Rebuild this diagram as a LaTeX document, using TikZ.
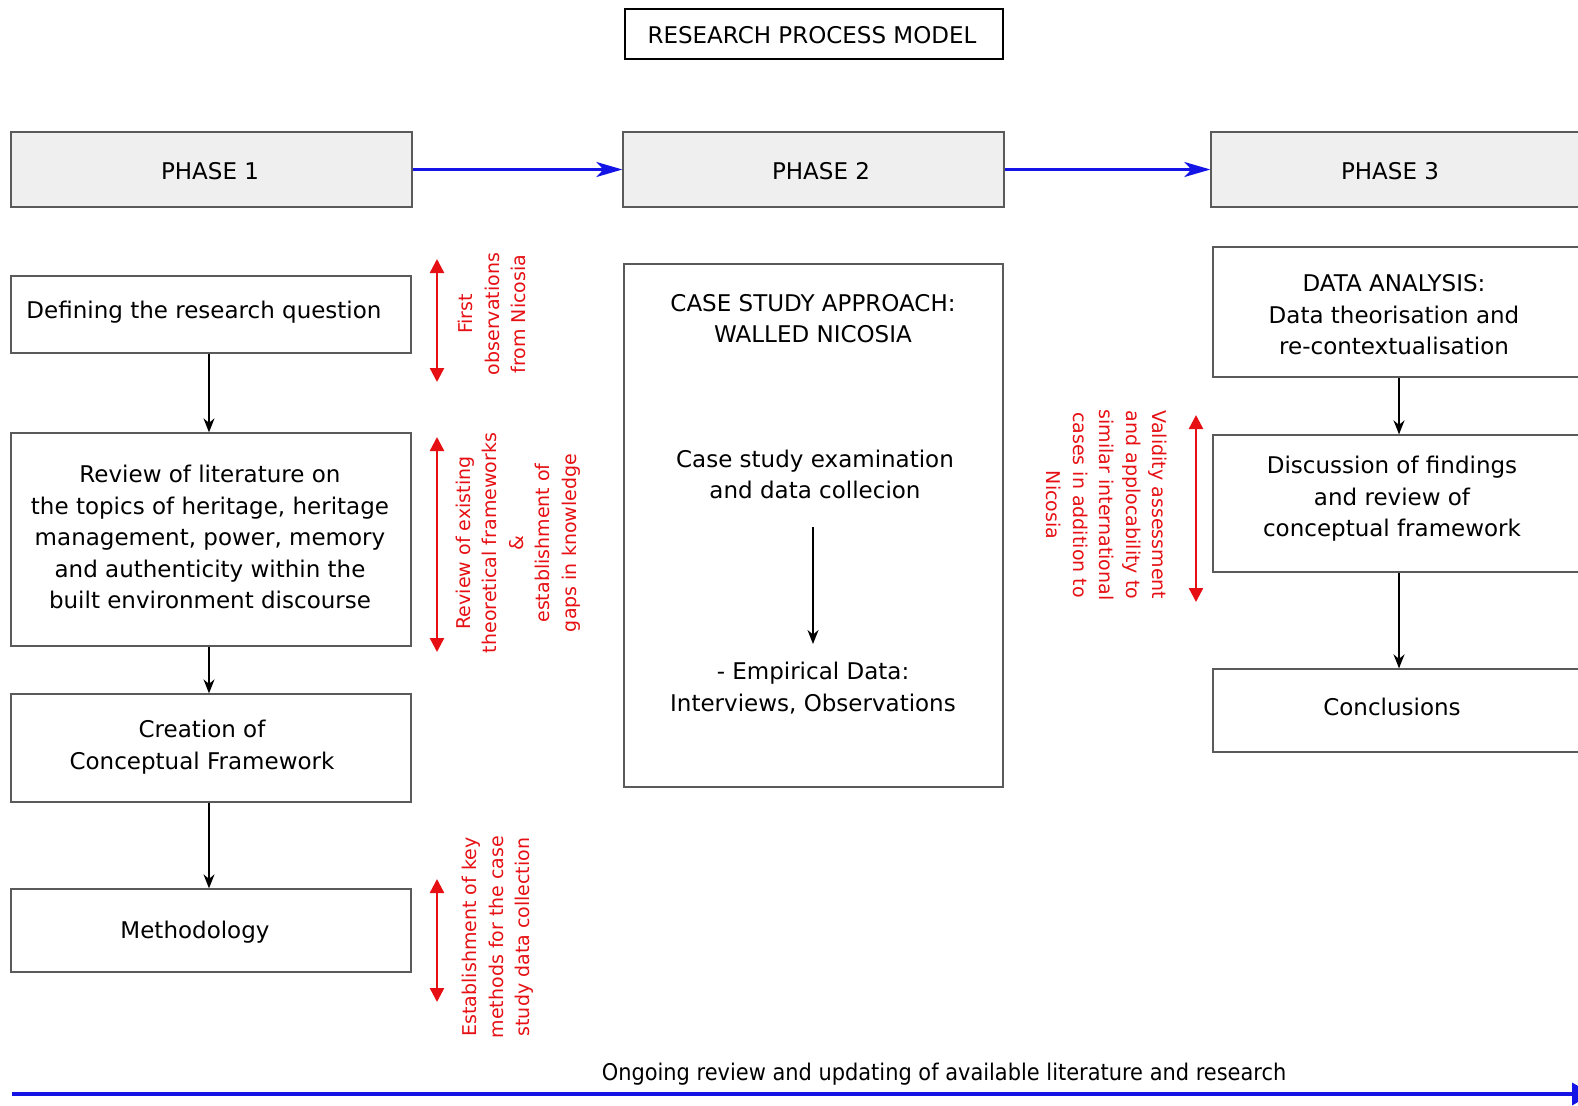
\documentclass[tikz,border=0pt]{standalone}
\usepackage{fontspec}
\usepackage{graphicx}
\setmainfont{DejaVu Sans}
\usetikzlibrary{arrows.meta}
\definecolor{phasefill}{HTML}{EFEFEF}
\definecolor{edgegray}{HTML}{5A5A5A}
\definecolor{notered}{RGB}{230,16,20}
\definecolor{flowblue}{RGB}{20,20,230}
\begin{document}
\begin{tikzpicture}[x=1pt,y=-1pt,
  box/.style={draw=edgegray,line width=1.3pt,inner sep=0pt},
  phasebox/.style={box,fill=phasefill},
  txt/.style={align=center,inner sep=0pt,font=\fontsize{23}{31.5}\selectfont},
  note/.style={align=center,inner sep=0pt,text=notered,font=\fontsize{19}{26.5}\selectfont},
  flow/.style={-{Stealth[length=14pt,width=11pt]},line width=1.7pt},
  bothway/.style={{Triangle[length=14pt,width=14pt]}-{Triangle[length=14pt,width=14pt]},line width=2.4pt,draw=notered},
  phaselink/.style={-{Stealth[length=26pt,width=15pt,inset=7pt]},line width=2.4pt,draw=flowblue}]
\useasboundingbox (0,0) rectangle (1578,1105);

% title
\node[draw=black,line width=2.8pt,minimum width=378pt,minimum height=50pt,inner sep=0pt] (title) at (814,34) {};
\node[txt] (titletext) at (812,35) {RESEARCH PROCESS MODEL};

% phase headers
\node[phasebox,minimum width=401pt,minimum height=75pt] (ph1) at (211.5,169.5) {};
\node[phasebox,minimum width=381pt,minimum height=75pt] (ph2) at (813.5,169.5) {};
\node[phasebox,minimum width=389pt,minimum height=75pt] (ph3) at (1405.5,169.5) {};
\node[txt] (ph1t) at (210,171) {PHASE 1};
\node[txt] (ph2t) at (821,171) {PHASE 2};
\node[txt] (ph3t) at (1390,171) {PHASE 3};
\draw[phaselink] (ph1.east) -- (ph2.west);
\draw[phaselink] (ph2.east) -- (ph3.west);

% phase 1 column
\node[box,minimum width=400pt,minimum height=77pt] (defq) at (211,314.5) {};
\node[box,minimum width=400pt,minimum height=213pt] (rev) at (211,539.5) {};
\node[box,minimum width=400pt,minimum height=108pt] (conc) at (211,748) {};
\node[box,minimum width=400pt,minimum height=83pt] (meth) at (211,930.5) {};
\node[txt] (defqt) at (204,312) {Defining the research question};
\node[txt] (revt) at (210,537) {Review of literature on\\the topics of heritage, heritage\\management, power, memory\\and authenticity within the\\built environment discourse};
\node[txt] (conct) at (202,747) {Creation of\\Conceptual Framework};
\node[txt] (metht) at (195,932) {Methodology};
\draw[flow] ([xshift=-2pt]defq.south) -- ([xshift=-2pt]rev.north);
\draw[flow] ([xshift=-2pt]rev.south) -- ([xshift=-2pt]conc.north);
\draw[flow] ([xshift=-2pt]conc.south) -- ([xshift=-2pt]meth.north);

% notes beside phase 1
\coordinate (r1a) at (437,259); \coordinate (r1b) at (437,382);
\coordinate (r2a) at (437,437); \coordinate (r2b) at (437,652);
\coordinate (r3a) at (437,879); \coordinate (r3b) at (437,1002);
\draw[bothway] (r1a) -- (r1b);
\draw[bothway] (r2a) -- (r2b);
\draw[bothway] (r3a) -- (r3b);
\node[note,rotate=90] (n1) at (492,314) {First\\observations\\from Nicosia};
\node[note,rotate=90] (n2) at (518,543) {Review of existing\\theoretical frameworks\\\&\\establishment of\\gaps in knowledge};
\node[note,rotate=90] (n3) at (498,937) {Establishment of key\\methods for the case\\study data collection};

% phase 2 column
\node[box,minimum width=379pt,minimum height=523pt] (case) at (813.5,525.5) {};
\node[txt] (caset) at (813,318.5) {CASE STUDY APPROACH:\\WALLED NICOSIA};
\node[txt] (exam) at (815,474.5) {Case study examination\\and data collecion};
\node[txt] (emp) at (813,688) {- Empirical Data:\\Interviews, Observations};
\coordinate (e1) at (813,527); \coordinate (e2) at (813,644);
\draw[flow] (e1) -- (e2);

% phase 3 column
\node[box,minimum width=387pt,minimum height=130pt] (ana) at (1406.5,312) {};
\node[box,minimum width=387pt,minimum height=137pt] (disc) at (1406.5,503.5) {};
\node[box,minimum width=387pt,minimum height=83pt] (concl) at (1406.5,710.5) {};
\node[txt] (anat) at (1394,315) {DATA ANALYSIS:\\Data theorisation and\\re-contextualisation};
\node[txt] (disct) at (1392,499) {Discussion of findings\\and review of\\conceptual framework};
\node[txt] (conclt) at (1392,707) {Conclusions};
\draw[flow] ([xshift=-7.5pt]ana.south) -- ([xshift=-7.5pt]disc.north);
\draw[flow] ([xshift=-7.5pt]disc.south) -- ([xshift=-7.5pt]concl.north);

\coordinate (r4a) at (1196,415); \coordinate (r4b) at (1196,602);
\draw[bothway] (r4a) -- (r4b);
\node[note,rotate=-90] (n4) at (1107,505) {Validity assessment\\and applocability to\\similar international\\cases in addition to\\Nicosia};

% ongoing review line
\node[txt] (ongo) at (944,1074) {\scalebox{0.91}[1]{Ongoing review and updating of available literature and research}};
\coordinate (b0) at (12,1094); \coordinate (b1) at (1592,1094);
\draw[-{Triangle[length=20pt,width=22pt]},line width=3.6pt,draw=flowblue] (b0) -- (b1);
\end{tikzpicture}
\end{document}
